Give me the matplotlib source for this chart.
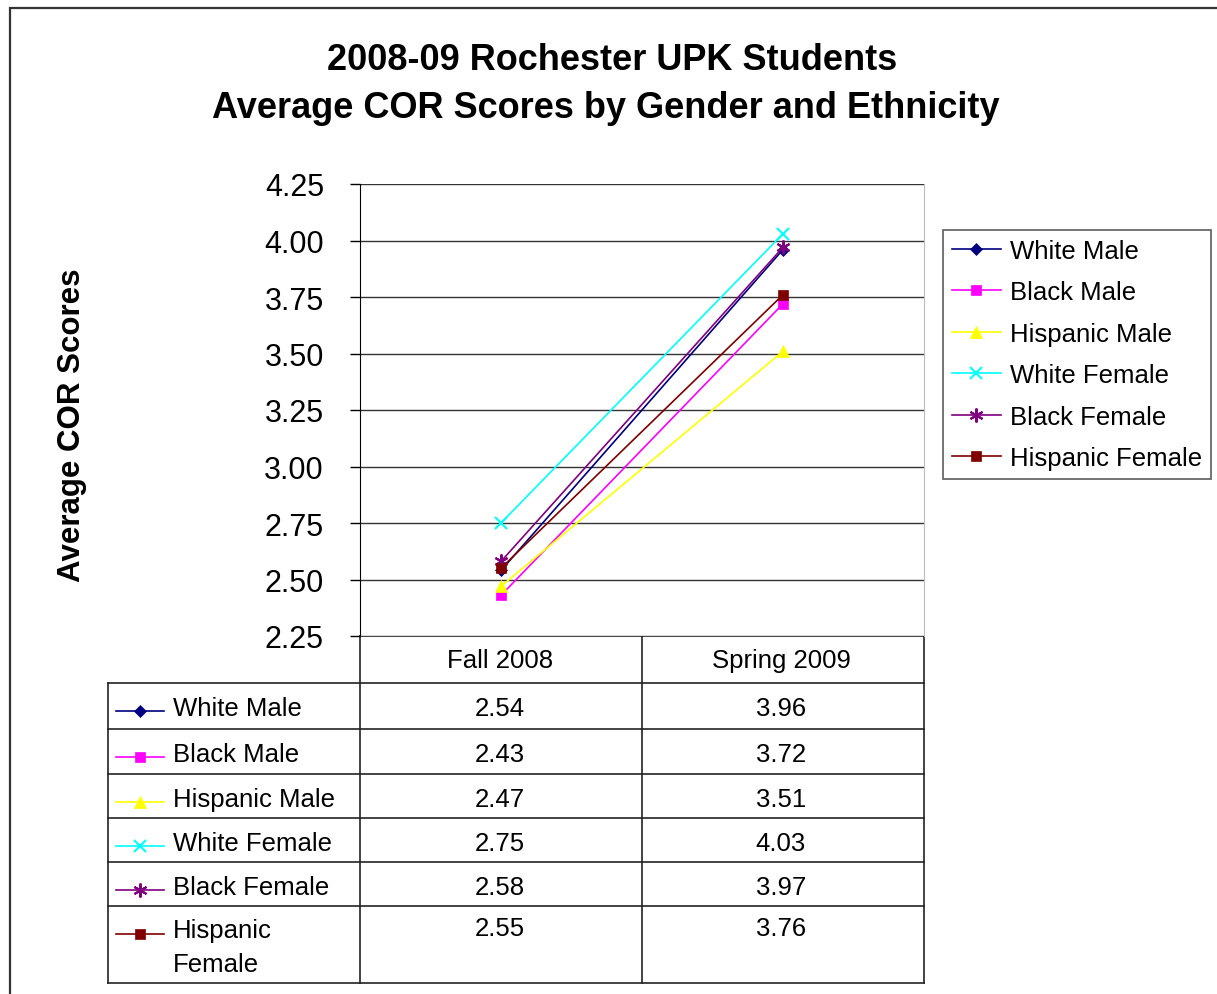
import matplotlib
matplotlib.use("Agg")
import matplotlib.pyplot as plt

plt.rcParams['font.family'] = ['Liberation Sans', 'DejaVu Sans']

periods = ["Fall 2008", "Spring 2009"]
groups = ["White Male", "Black Male", "Hispanic Male",
          "White Female", "Black Female", "Hispanic Female"]
white_male = [2.54, 3.96]
black_male = [2.43, 3.72]
hispanic_male = [2.47, 3.51]
white_female = [2.75, 4.03]
black_female = [2.58, 3.97]
hispanic_female = [2.55, 3.76]
series = [white_male, black_male, hispanic_male, white_female, black_female, hispanic_female]
yticks = [2.25, 2.50, 2.75, 3.00, 3.25, 3.50, 3.75, 4.00, 4.25]

# excel-ish styles
colors = ["#000080", "#FF00FF", "#FFFF00", "#00FFFF", "#800080", "#800000"]
markers = ["D", "s", "^", "x", (6, 2, 0), "s"]
msizes = [6.5, 7, 9, 9, 10, 7.5]

W, H = 1217, 995
fig = plt.figure(figsize=(W / 100, H / 100), dpi=100)

# background axes in pixel coords for border and data table
bg = fig.add_axes([0, 0, 1, 1])
bg.set_xlim(0, W)
bg.set_ylim(H, 0)
bg.axis("off")

# outer chart border
bg.plot([10, 10, W + 5], [H + 5, 9, 9], color="#333333", lw=1.6, solid_joinstyle="miter")

# main plot area
ax = fig.add_axes([360 / W, 1 - 637 / H, 564 / W, 452 / H])
x = [0.5, 1.5]
for vals, c, m, ms, name in zip(series, colors, markers, msizes, groups):
    ax.plot(x, vals, color=c, marker=m, markersize=ms, lw=1.2, label=name,
            markeredgecolor=c, markeredgewidth=1.5 if m in ("x", (6, 2, 0)) else 0.5)

ax.set_xlim(0, 2)
ax.set_ylim(2.25, 4.25)
ax.set_yticks(yticks)
ax.set_yticklabels([f"{v:.2f}" for v in yticks], fontsize=22)
ax.set_xticks([])
ax.tick_params(axis="y", length=7, width=1, pad=19, direction="out")
ax.grid(axis="y", color="#333333", lw=1)
ax.set_axisbelow(True)
ax.spines["top"].set_visible(False)
ax.spines["bottom"].set_visible(False)
ax.spines["left"].set_color("black")
ax.spines["right"].set_color("#BBBBBB")

fig.text(72 / W, 1 - 425 / H, "Average COR Scores", rotation=90, ha="center", va="center",
         fontsize=22.5, fontweight="bold")

fig.text(612 / W, 1 - 60 / H, "2008-09 Rochester UPK Students", ha="center", va="center",
         fontsize=26, fontweight="bold")
fig.text(606 / W, 1 - 108 / H, "Average COR Scores by Gender and Ethnicity", ha="center",
         va="center", fontsize=26, fontweight="bold")

leg = ax.legend(loc="upper left", bbox_to_anchor=(943 / W, 1 - 231 / H),
                bbox_transform=fig.transFigure, fontsize=18.5, frameon=True, fancybox=False,
                edgecolor="#333333", borderaxespad=0, handlelength=1.9, handletextpad=0.35,
                labelspacing=0.68, borderpad=0.35)
leg.get_frame().set_linewidth(1.2)

# data table under the plot
col_x = [108, 360, 642, 924]
row_y = [684, 730, 775, 819, 863, 907, 984]
lc = "#222222"
bg.plot([360, 924], [637, 637], color=lc, lw=1.2)
for yy in row_y:
    bg.plot([108, 924], [yy, yy], color=lc, lw=1.2)
bg.plot([108, 108], [684, 984], color=lc, lw=1.2)
for xx in col_x[1:]:
    bg.plot([xx, xx], [637, 984], color=lc, lw=1.2)

col_cx = [500, 781]
for p, cx in zip(periods, col_cx):
    bg.text(cx, 661, p, ha="center", va="center", fontsize=18.5)

for i, (name, vals, c, m, ms) in enumerate(zip(groups, series, colors, markers, msizes)):
    top = row_y[i]
    ty = top + 24
    bg.plot([116, 164], [ty + 4, ty + 4], color=c, lw=1.2)
    bg.plot([140], [ty + 4], color=c, marker=m, markersize=ms, markeredgecolor=c,
            markeredgewidth=1.5 if m in ("x", (6, 2, 0)) else 0.5)
    if name == "Hispanic Female":
        bg.text(173, top + 12, "Hispanic\nFemale", ha="left", va="top", fontsize=18.5,
                linespacing=1.55)
    else:
        bg.text(173, ty + 1, name, ha="left", va="center", fontsize=18.5)
    for v, cx in zip(vals, col_cx):
        bg.text(cx, ty + 1 if i < 5 else top + 22, f"{v:.2f}", ha="center", va="center",
                fontsize=18.5)

fig.savefig("out.png", dpi=100)
